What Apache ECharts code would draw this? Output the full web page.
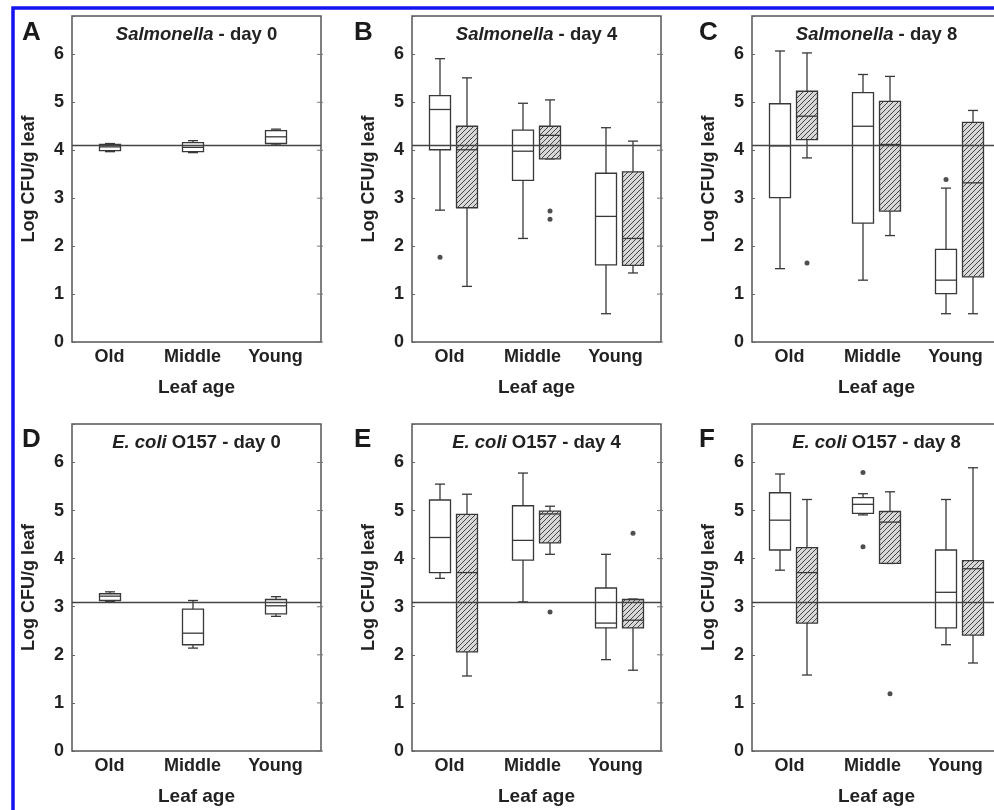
<!DOCTYPE html>
<html>
<head>
<meta charset="utf-8">
<script src="https://cdn.jsdelivr.net/npm/echarts@6.0.0/dist/echarts.min.js"></script>
<style>
  html, body { margin: 0; padding: 0; background: #fff; }
  #chart { width: 994px; height: 810px; }
</style>
</head>
<body>
<div id="chart"></div>
<script>
// categories and reference levels (inoculum)
const categories = ['Old', 'Middle', 'Young'];
const salRef = 4.1;
const ecoRef = 3.1;

// each box: [low whisker, Q1, median, Q3, high whisker] for Old, Middle, Young
const salDay0 = [[3.97, 3.99, 4.07, 4.12, 4.14], [3.95, 3.97, 4.06, 4.16, 4.20], [4.11, 4.14, 4.28, 4.41, 4.44]];
const salDay4Plain = [[2.75, 4.01, 4.85, 5.14, 5.91], [2.16, 3.37, 3.98, 4.42, 4.98], [0.59, 1.61, 2.62, 3.52, 4.47]];
const salDay4Hatch = [[1.16, 2.80, 4.01, 4.50, 5.51], [3.82, 3.82, 4.31, 4.50, 5.05], [1.44, 1.60, 2.16, 3.55, 4.19]];
const salDay8Plain = [[1.53, 3.01, 4.09, 4.97, 6.07], [1.29, 2.48, 4.50, 5.20, 5.58], [0.59, 1.01, 1.29, 1.93, 3.21]];
const salDay8Hatch = [[3.84, 4.22, 4.71, 5.23, 6.03], [2.22, 2.73, 4.12, 5.02, 5.54], [0.59, 1.36, 3.32, 4.58, 4.83]];

const ecoDay0 = [[3.11, 3.13, 3.22, 3.27, 3.31], [2.14, 2.21, 2.45, 2.95, 3.13], [2.80, 2.85, 3.02, 3.15, 3.21]];
const ecoDay4Plain = [[3.59, 3.71, 4.44, 5.22, 5.55], [3.10, 3.97, 4.38, 5.10, 5.78], [1.90, 2.56, 2.66, 3.39, 4.09]];
const ecoDay4Hatch = [[1.56, 2.06, 3.71, 4.92, 5.34], [4.09, 4.33, 4.93, 4.99, 5.09], [1.68, 2.56, 2.72, 3.15, 3.16]];
const ecoDay8Plain = [[3.76, 4.18, 4.80, 5.37, 5.76], [4.91, 4.94, 5.13, 5.27, 5.35], [2.21, 2.56, 3.30, 4.18, 5.23]];
const ecoDay8Hatch = [[1.58, 2.66, 3.71, 4.23, 5.23], [3.90, 3.90, 4.76, 4.98, 5.39], [1.83, 2.41, 3.79, 3.96, 5.89]];

// outliers: [category index, value]
const salDay4PlainOut = [[0, 1.77]];
const salDay4HatchOut = [[1, 2.73], [1, 2.56]];
const salDay8PlainOut = [[2, 3.39]];
const salDay8HatchOut = [[0, 1.65]];
const ecoDay4PlainOut = [];
const ecoDay4HatchOut = [[1, 2.89], [2, 4.53]];
const ecoDay8PlainOut = [[1, 5.79], [1, 4.25]];
const ecoDay8HatchOut = [[1, 1.19]];

const yTicks = [0, 1, 2, 3, 4, 5, 6];

const FONT = '"Liberation Sans", Arial, Helvetica, sans-serif';
const INK = '#222';
const LINE = '#383838';

const panels = [
  { letter: 'A', sp: 'Salmonella', rest: ' - day 0', ref: salRef, plain: salDay0, hatch: null, plainOut: [], hatchOut: [] },
  { letter: 'B', sp: 'Salmonella', rest: ' - day 4', ref: salRef, plain: salDay4Plain, hatch: salDay4Hatch, plainOut: salDay4PlainOut, hatchOut: salDay4HatchOut },
  { letter: 'C', sp: 'Salmonella', rest: ' - day 8', ref: salRef, plain: salDay8Plain, hatch: salDay8Hatch, plainOut: salDay8PlainOut, hatchOut: salDay8HatchOut },
  { letter: 'D', sp: 'E. coli', rest: ' O157 - day 0', ref: ecoRef, plain: ecoDay0, hatch: null, plainOut: [], hatchOut: [] },
  { letter: 'E', sp: 'E. coli', rest: ' O157 - day 4', ref: ecoRef, plain: ecoDay4Plain, hatch: ecoDay4Hatch, plainOut: ecoDay4PlainOut, hatchOut: ecoDay4HatchOut },
  { letter: 'F', sp: 'E. coli', rest: ' O157 - day 8', ref: ecoRef, plain: ecoDay8Plain, hatch: ecoDay8Hatch, plainOut: ecoDay8PlainOut, hatchOut: ecoDay8HatchOut }
];

const colLeft = [72, 412, 752];
const letterX = [22, 354, 699];
const rowTop = [16, 424];
const rowHeight = [326, 327];
const plotW = 249;
const BOX_W = 21;
const CAP_W = 10;
const PAIR_OFF = 13.5;

function makeHatch () {
  const c = document.createElement('canvas');
  c.width = 5;
  c.height = 5;
  const ctx = c.getContext('2d');
  ctx.fillStyle = '#d8d8d8';
  ctx.fillRect(0, 0, 5, 5);
  ctx.strokeStyle = '#454545';
  ctx.lineWidth = 1;
  ctx.beginPath();
  ctx.moveTo(-1, 6); ctx.lineTo(6, -1);
  ctx.moveTo(-1, 1); ctx.lineTo(1, -1);
  ctx.moveTo(4, 6); ctx.lineTo(6, 4);
  ctx.stroke();
  return c;
}
const hatchFill = { image: makeHatch(), repeat: 'repeat' };

function boxRenderer (offset, fill) {
  return function (params, api) {
    const x = api.coord([api.value(0), 0])[0] + offset;
    const yLow = api.coord([0, api.value(1)])[1];
    const yQ1 = api.coord([0, api.value(2)])[1];
    const yMed = api.coord([0, api.value(3)])[1];
    const yQ3 = api.coord([0, api.value(4)])[1];
    const yHigh = api.coord([0, api.value(5)])[1];
    const hw = BOX_W / 2;
    const cw = CAP_W / 2;
    const ls = { stroke: LINE, lineWidth: 1.3 };
    return {
      type: 'group',
      children: [
        { type: 'line', shape: { x1: x, y1: yHigh, x2: x, y2: yQ3 }, style: ls },
        { type: 'line', shape: { x1: x, y1: yQ1, x2: x, y2: yLow }, style: ls },
        { type: 'line', shape: { x1: x - cw, y1: yHigh, x2: x + cw, y2: yHigh }, style: ls },
        { type: 'line', shape: { x1: x - cw, y1: yLow, x2: x + cw, y2: yLow }, style: ls },
        { type: 'rect', shape: { x: x - hw, y: yQ3, width: BOX_W, height: yQ1 - yQ3 }, style: { fill: fill, stroke: LINE, lineWidth: 1.3 } },
        { type: 'line', shape: { x1: x - hw, y1: yMed, x2: x + hw, y2: yMed }, style: ls }
      ]
    };
  };
}

const grid = [];
const xAxis = [];
const yAxis = [];
const series = [];
const graphic = [];

panels.forEach((p, i) => {
  const col = i % 3;
  const row = Math.floor(i / 3);
  const left = colLeft[col];
  const top = rowTop[row];
  grid.push({
    left: left, top: top, width: plotW, height: rowHeight[row],
    outerBoundsMode: 'none',
    containLabel: false,
    show: true, borderColor: '#555', borderWidth: 1.5
  });
  xAxis.push({
    gridIndex: i,
    type: 'category',
    data: categories,
    axisLine: { show: false },
    axisTick: { show: false },
    axisLabel: {
      margin: 6, fontSize: 18, fontWeight: 'bold', color: INK, fontFamily: FONT,
      padding: [0, 8, 0, 0]
    },
    name: 'Leaf age',
    nameLocation: 'middle',
    nameGap: 36,
    nameTextStyle: { fontSize: 19, fontWeight: 'bold', color: INK, fontFamily: FONT }
  });
  yAxis.push({
    gridIndex: i,
    type: 'value',
    min: 0,
    max: 6.8,
    interval: 1,
    splitLine: { show: false },
    axisLine: { show: false },
    axisTick: { show: true, inside: true, length: 3, lineStyle: { color: '#666' } },
    axisLabel: {
      margin: 8, fontSize: 18, fontWeight: 'bold', color: INK, fontFamily: FONT,
      formatter: v => (yTicks.indexOf(v) >= 0 ? String(v) : '')
    },
    name: 'Log CFU/g leaf',
    nameLocation: 'middle',
    nameGap: 34,
    nameRotate: 90,
    nameTextStyle: { fontSize: 18, fontWeight: 'bold', color: INK, fontFamily: FONT }
  });

  const plainOffset = p.hatch ? -PAIR_OFF : -3.5;
  series.push({
    type: 'custom',
    xAxisIndex: i,
    yAxisIndex: i,
    renderItem: boxRenderer(plainOffset, '#fff'),
    encode: { x: 0, y: [1, 2, 3, 4, 5] },
    data: p.plain.map((d, k) => [k].concat(d)),
    silent: true,
    z: 2
  });
  if (p.hatch) {
    series.push({
      type: 'custom',
      xAxisIndex: i,
      yAxisIndex: i,
      renderItem: boxRenderer(PAIR_OFF, hatchFill),
      encode: { x: 0, y: [1, 2, 3, 4, 5] },
      data: p.hatch.map((d, k) => [k].concat(d)),
      silent: true,
      z: 2
    });
  }
  // reference line
  series.push({
    type: 'line',
    xAxisIndex: i,
    yAxisIndex: i,
    data: [],
    silent: true,
    markLine: {
      silent: true,
      symbol: ['none', 'none'],
      label: { show: false },
      lineStyle: { color: '#444', width: 1.3, type: 'solid' },
      data: [{ yAxis: p.ref }]
    },
    z: 5
  });
  if (p.plainOut.length) {
    series.push({
      type: 'scatter', xAxisIndex: i, yAxisIndex: i,
      data: p.plainOut, symbolSize: 5, symbolOffset: [plainOffset, 0],
      itemStyle: { color: '#222' }, silent: true, z: 3
    });
  }
  if (p.hatchOut.length) {
    series.push({
      type: 'scatter', xAxisIndex: i, yAxisIndex: i,
      data: p.hatchOut, symbolSize: 5, symbolOffset: [PAIR_OFF, 0],
      itemStyle: { color: '#222' }, silent: true, z: 3
    });
  }

  // right-hand tick marks along the frame
  graphic.push({
    type: 'group',
    silent: true,
    children: yTicks.map(t => ({
      type: 'line',
      shape: {
        x1: left + plotW - 4, x2: left + plotW + 2,
        y1: top + rowHeight[row] * (1 - t / 6.8), y2: top + rowHeight[row] * (1 - t / 6.8)
      },
      style: { stroke: '#777', lineWidth: 1 }
    }))
  });

  // panel letter and title
  graphic.push({
    type: 'text',
    x: letterX[col],
    y: row === 0 ? 33 : 440,
    style: {
      text: p.letter, fill: '#1a1a1a', fontSize: 26, fontWeight: 'bold', fontFamily: FONT,
      align: 'left', verticalAlign: 'middle'
    }
  });
  graphic.push({
    type: 'text',
    x: left + plotW / 2,
    y: row === 0 ? 35 : 443,
    style: {
      text: '{i|' + p.sp + '}' + p.rest,
      fill: INK, fontSize: 18.5, fontWeight: 'bold', fontFamily: FONT,
      align: 'center', verticalAlign: 'middle',
      rich: {
        i: { fontStyle: 'italic', fontWeight: 'bold', fontSize: 18.5, fontFamily: FONT, fill: INK }
      }
    }
  });
});

// blue selection frame around the figure
graphic.push({
  type: 'rect',
  shape: { x: 13, y: 8, width: 1200, height: 1200 },
  style: { fill: 'none', stroke: '#1414f0', lineWidth: 3.5 },
  z: 100
});

const chart = echarts.init(document.getElementById('chart'), null, { renderer: 'canvas' });
chart.setOption({
  animation: false,
  backgroundColor: '#fff',
  grid: grid,
  xAxis: xAxis,
  yAxis: yAxis,
  series: series,
  graphic: graphic
});
</script>
</body>
</html>
